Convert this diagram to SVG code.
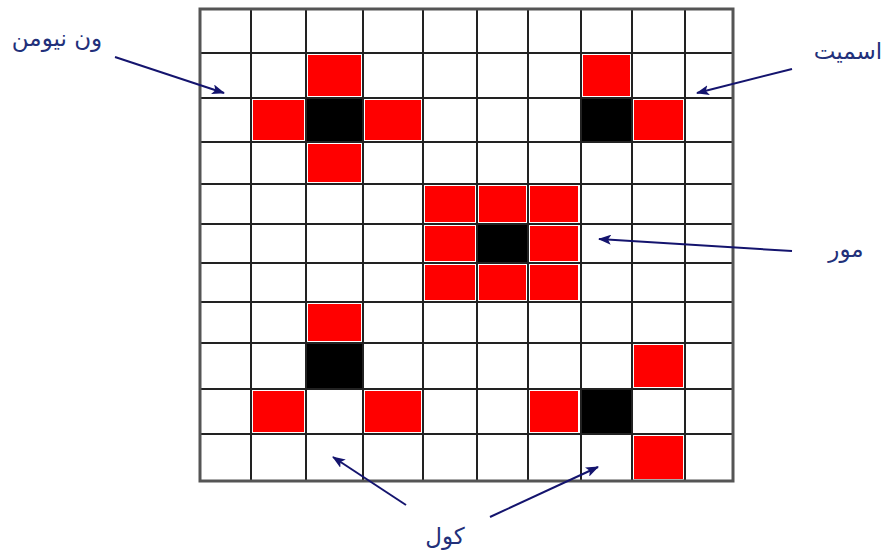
<svg xmlns="http://www.w3.org/2000/svg" width="889" height="553" viewBox="0 0 889 553">
<style>
.r{fill:#ff0000}
.k{fill:#000000}
.g{stroke:#222;stroke-width:2;fill:none}
.b{stroke:#555;stroke-width:3;fill:none}
.a{stroke:#14146e;stroke-width:2;fill:none;marker-end:url(#ah)}
.t{font-family:"DejaVu Sans",sans-serif;font-size:23px;fill:#22307a;text-anchor:middle;direction:rtl}
</style>
<defs>
<marker id="ah" markerWidth="13" markerHeight="10" refX="12" refY="5" orient="auto" markerUnits="userSpaceOnUse">
<path d="M0,0 L13,5 L0,10 L3,5 Z" fill="#14146e"/>
</marker>
</defs>
<rect width="889" height="553" fill="#fff"/>
<g id="cells">
<rect class="r" x="308" y="55" width="53" height="41"/>
<rect class="r" x="583" y="55" width="47" height="41"/>
<rect class="r" x="253" y="100" width="51" height="40"/>
<rect class="k" x="306" y="98" width="57" height="44"/>
<rect class="r" x="365" y="100" width="56" height="40"/>
<rect class="k" x="581" y="98" width="51" height="44"/>
<rect class="r" x="634" y="100" width="49" height="40"/>
<rect class="r" x="308" y="144" width="53" height="38"/>
<rect class="r" x="425" y="186" width="50" height="36"/>
<rect class="r" x="479" y="186" width="47" height="36"/>
<rect class="r" x="530" y="186" width="48" height="36"/>
<rect class="r" x="425" y="226" width="50" height="35"/>
<rect class="k" x="477" y="224" width="51" height="39"/>
<rect class="r" x="530" y="226" width="48" height="35"/>
<rect class="r" x="425" y="265" width="50" height="35"/>
<rect class="r" x="479" y="265" width="47" height="35"/>
<rect class="r" x="530" y="265" width="48" height="35"/>
<rect class="r" x="308" y="304" width="53" height="37"/>
<rect class="k" x="306" y="343" width="57" height="46"/>
<rect class="r" x="634" y="345" width="49" height="42"/>
<rect class="r" x="253" y="391" width="51" height="41"/>
<rect class="r" x="365" y="391" width="56" height="41"/>
<rect class="r" x="530" y="391" width="48" height="41"/>
<rect class="k" x="581" y="389" width="51" height="45"/>
<rect class="r" x="634" y="436" width="49" height="43"/>
</g>
<g id="grid">
<path class="g" d="M251,9V481M306,9V481M363,9V481M423,9V481M477,9V481M528,9V481M581,9V481M632,9V481M685,9V481"/>
<path class="g" d="M200,53H733M200,98H733M200,142H733M200,184H733M200,224H733M200,263H733M200,302H733M200,343H733M200,389H733M200,434H733"/>
<rect class="b" x="200" y="9" width="533" height="472"/>
</g>
<g id="connectors">
<line class="a" x1="115" y1="57" x2="224" y2="93"/>
<line class="a" x1="792" y1="69" x2="697" y2="93"/>
<line class="a" x1="792" y1="251" x2="599" y2="239"/>
<line class="a" x1="406" y1="505" x2="333" y2="457"/>
<line class="a" x1="490" y1="517" x2="598" y2="467"/>
</g>
<g id="label-vonneumann"><text class="t" x="57" y="46">ون نیومن</text></g>
<g id="label-smith"><text class="t" x="848" y="59">اسمیت</text></g>
<g id="label-moore"><text class="t" x="846" y="257">مور</text></g>
<g id="label-cole"><text class="t" x="445" y="544">کول</text></g>
</svg>
